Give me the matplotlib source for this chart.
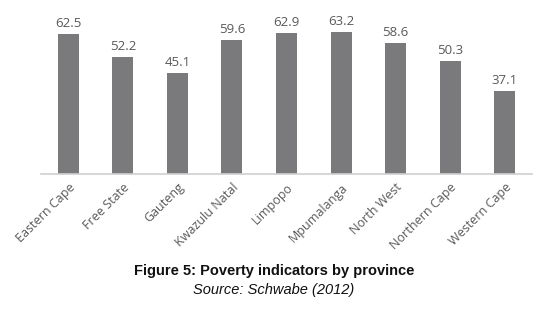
import matplotlib
matplotlib.use('Agg')
import matplotlib.pyplot as plt

provincias = ['Eastern Cape', 'Free State', 'Gauteng', 'Kwazulu Natal', 'Limpopo',
              'Mpumalanga', 'North West', 'Northern Cape', 'Western Cape']
valores = [62.5, 52.2, 45.1, 59.6, 62.9, 63.2, 58.6, 50.3, 37.1]

fig = plt.figure(figsize=(5.48, 3.09), dpi=100)
ax = fig.add_axes([41/548, 1 - 174/309, 491/548, 157/309])

x = range(len(provincias))
bars = ax.bar(x, valores, width=0.385, color='#7a7a7c')
ax.set_xlim(-0.5, len(provincias) - 0.5)
ax.set_ylim(0, 70)

for b, v in zip(bars, valores):
    ax.text(b.get_x() + b.get_width() / 2, v + 1.8, f'{v}', ha='center', va='bottom',
            fontsize=9.5, color='#595959', family='Open Sans')

ax.set_xticks(list(x))
ax.set_xticklabels(provincias, rotation=45, ha='right', rotation_mode='anchor',
                   fontsize=9, color='#595959', family='Open Sans')
ax.tick_params(axis='x', length=0, pad=5)
ax.set_yticks([])
for s in ['top', 'right', 'left']:
    ax.spines[s].set_visible(False)
ax.spines['bottom'].set_color('#d0d0d0')
ax.spines['bottom'].set_linewidth(1.2)

fig.text(0.5, 1 - 271/309, 'Figure 5: Poverty indicators by province', ha='center', va='center',
         fontsize=10.5, fontweight='bold', family='Liberation Sans', color='#111111')
fig.text(0.5, 1 - 290/309, 'Source: Schwabe (2012)', ha='center', va='center',
         fontsize=10.5, style='italic', family='Liberation Sans', color='#111111')

fig.savefig('out.png', dpi=100)
